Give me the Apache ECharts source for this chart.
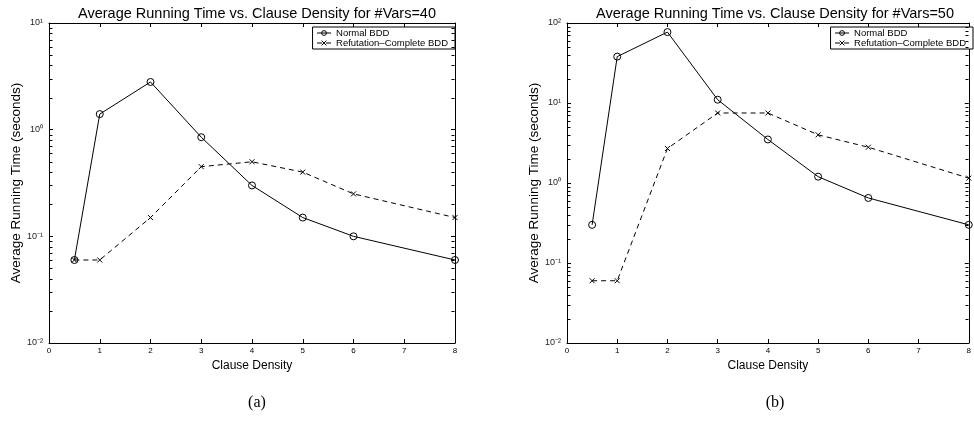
<!DOCTYPE html>
<html>
<head>
<meta charset="utf-8">
<script src="https://cdn.jsdelivr.net/npm/echarts@6/dist/echarts.min.js"></script>
<style>
  html, body { margin: 0; padding: 0; background: #fff; }
  #chart { width: 974px; height: 423px; }
</style>
</head>
<body>
<div id="chart"></div>
<script>
/**
 * data
 */
var densities = [0.5, 1, 2, 3, 4, 5, 6, 8];
var normal40 = [0.06, 1.4, 2.8, 0.85, 0.3, 0.15, 0.1, 0.06];
var refut40 = [0.06, 0.06, 0.15, 0.45, 0.5, 0.4, 0.25, 0.15];
var normal50 = [0.3, 38, 77, 11, 3.5, 1.2, 0.65, 0.3];
var refut50 = [0.06, 0.06, 2.7, 7.5, 7.5, 4, 2.8, 1.15];
var seriesNames = ['Normal BDD', 'Refutation\u2013Complete BDD'];
var titles = ['Average Running Time vs. Clause Density for #Vars=40',
              'Average Running Time vs. Clause Density for #Vars=50'];
var captions = ['(a)', '(b)'];
var xMin = 0, xMax = 8;
var yMin = [0.01, 0.01];
var yMax = [10, 100];

var FONT = 'Liberation Sans, Arial, Helvetica, sans-serif';
var SUP = {'-': '\u207B', '0': '\u2070', '1': '\u00B9', '2': '\u00B2'};

function supLabel(v){
    var e = String(Math.round(Math.log(v) / Math.LN10));
    var s = '';
    for (var i = 0; i < e.length; i++) s += SUP[e[i]];
    return '10' + s;
}

function pairs(ys){
    var out = [];
    for (var i = 0; i < densities.length; i++) out.push([densities[i], ys[i]]);
    return out;
}

// minor tick values 2..9 of each decade
function minorTicks(lo, hi){
    var out = [];
    for (var v = lo; v < hi * 0.999; v *= 10) {
        for (var k = 2; k <= 9; k++) out.push([xMax, k * v]);
    }
    return out;
}

var chart = echarts.init(document.getElementById('chart'));

var grids = [
    {left: 49, top: 23, width: 406, height: 320},
    {left: 567, top: 23, width: 406, height: 320}
];
var xAxes = [], yAxes = [], series = [], titleList = [], legends = [];

for (var g = 0; g < 2; g++) {
    var gridLeft = grids[g].left, gridCenter = gridLeft + grids[g].width / 2;
    // bottom x axis
    xAxes.push({
        gridIndex: g, type: 'value', min: xMin, max: xMax, interval: 1,
        name: 'Clause Density', nameLocation: 'middle', nameGap: 14,
        nameTextStyle: {fontFamily: FONT, fontSize: 12, color: '#000'},
        axisLine: {onZero: false, lineStyle: {color: '#000', width: 1}},
        axisTick: {inside: true, length: 4, lineStyle: {color: '#000'}},
        axisLabel: {fontFamily: FONT, fontSize: 8, color: '#000', margin: 4},
        splitLine: {show: false}
    });
    // top x axis (box)
    xAxes.push({
        gridIndex: g, type: 'value', min: xMin, max: xMax, interval: 1, position: 'top',
        axisLine: {onZero: false, lineStyle: {color: '#000', width: 1}},
        axisTick: {inside: true, length: 4, lineStyle: {color: '#000'}},
        axisLabel: {show: false}, splitLine: {show: false}
    });
    yAxes.push({
        gridIndex: g, type: 'log', logBase: 10, min: yMin[g], max: yMax[g],
        name: 'Average Running Time (seconds)', nameLocation: 'middle', nameGap: 24,
        nameRotate: 90,
        nameTextStyle: {fontFamily: FONT, fontSize: 13.5, color: '#000'},
        axisLine: {onZero: false, lineStyle: {color: '#000', width: 1}},
        axisTick: {inside: true, length: 4, lineStyle: {color: '#000'}},
        axisLabel: {fontFamily: FONT, fontSize: 9, color: '#222', margin: 6, formatter: supLabel},
        splitLine: {show: false}
    });
    yAxes.push({
        gridIndex: g, type: 'log', logBase: 10, min: yMin[g], max: yMax[g], position: 'right',
        axisLine: {onZero: false, lineStyle: {color: '#000', width: 1}},
        axisTick: {inside: true, length: 4, lineStyle: {color: '#000'}},
        axisLabel: {show: false}, splitLine: {show: false}
    });

    var xi = g * 2, yi = g * 2;
    series.push({
        name: seriesNames[0], type: 'line', xAxisIndex: xi, yAxisIndex: yi,
        data: pairs(g == 0 ? normal40 : normal50),
        symbol: 'circle', symbolSize: 7,
        lineStyle: {color: '#000', width: 1},
        itemStyle: {color: 'rgba(0,0,0,0)', borderColor: '#000', borderWidth: 1},
        animation: false, z: 3
    });
    series.push({
        name: seriesNames[1], type: 'line', xAxisIndex: xi, yAxisIndex: yi,
        data: pairs(g == 0 ? refut40 : refut50),
        symbol: 'path://M0,0L10,10M10,0L0,10', symbolSize: 5,
        lineStyle: {color: '#000', width: 1, type: [5, 4]},
        itemStyle: {color: 'rgba(0,0,0,0)', borderColor: '#000', borderWidth: 1},
        animation: false, z: 3
    });
    // log minor ticks on both sides of the box, drawn inward
    series.push({
        type: 'custom', xAxisIndex: xi, yAxisIndex: yi, silent: true, clip: false,
        data: minorTicks(yMin[g], yMax[g]),
        renderItem: function(params, api){
            var cs = params.coordSys;
            var y = Math.round(api.coord([api.value(0), api.value(1)])[1]) + 0.5;
            var xl = Math.round(cs.x) + 0.5, xr = Math.round(cs.x + cs.width) - 0.5;
            return {type: 'group', children: [
                {type: 'line', shape: {x1: xl, y1: y, x2: xl + 3, y2: y}, style: {stroke: '#000', lineWidth: 1}},
                {type: 'line', shape: {x1: xr - 3, y1: y, x2: xr, y2: y}, style: {stroke: '#000', lineWidth: 1}}
            ]};
        },
        animation: false, z: 5
    });

    titleList.push({
        text: titles[g], left: gridCenter, top: 1, textAlign: 'center',
        textStyle: {fontFamily: FONT, fontSize: 14.5, fontWeight: 'normal', color: '#000'}
    });
    titleList.push({
        text: captions[g], left: gridCenter, top: 390, textAlign: 'center',
        textStyle: {fontFamily: 'Liberation Serif, Times New Roman, serif', fontSize: 16, fontWeight: 'normal', color: '#000'}
    });
    legends.push({
        data: seriesNames, orient: 'vertical', align: 'left',
        right: g == 0 ? 974 - 455 : 1, top: 27,
        backgroundColor: '#fff', borderColor: '#000', borderWidth: 1,
        padding: [1, 7, 1, 4], itemGap: 0, itemWidth: 14, itemHeight: 6,
        itemStyle: {borderWidth: 1},
        lineStyle: {width: 1},
        textStyle: {fontFamily: FONT, fontSize: 9.5, lineHeight: 8, color: '#000'}
    });
}

var option = {
    backgroundColor: '#fff',
    animation: false,
    title: titleList,
    legend: legends,
    grid: grids,
    xAxis: xAxes,
    yAxis: yAxes,
    series: series
};
chart.setOption(option);
</script>
</body>
</html>
